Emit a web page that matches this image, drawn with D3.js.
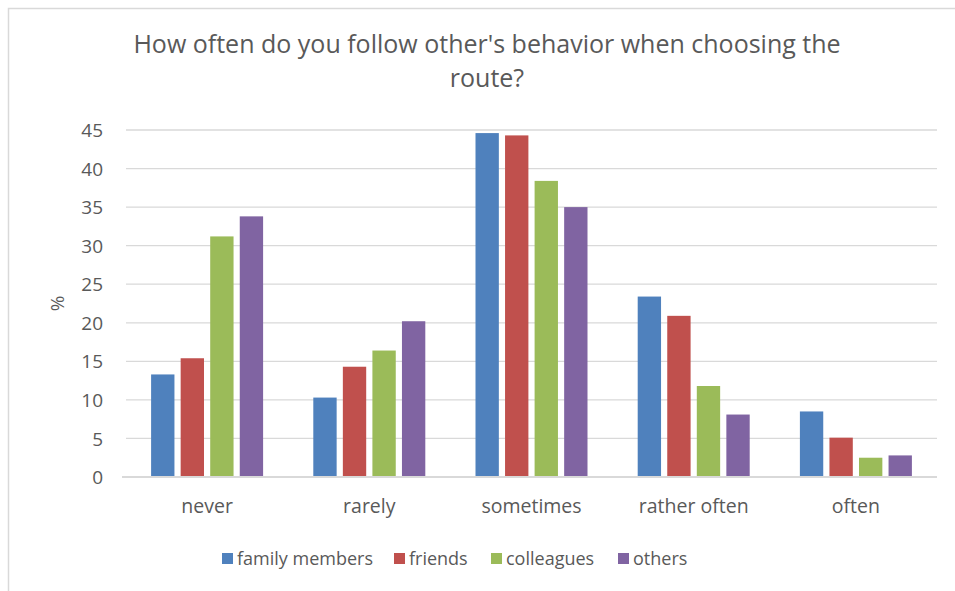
<!DOCTYPE html>
<html>
<head>
<meta charset="utf-8">
<script src="https://cdn.jsdelivr.net/npm/d3@7"></script>
<style>
  html, body { margin: 0; padding: 0; background: #fff; }
  svg { display: block; }
  text { font-family: "Open Sans", "Noto Sans", sans-serif; fill: #595959; }
</style>
</head>
<body>
<svg id="chart" width="955" height="591"></svg>
<script>
// Survey answers per frequency category, share of respondents in %
const categories = ["never", "rarely", "sometimes", "rather often", "often"];
const seriesNames = ["family members", "friends", "colleagues", "others"];
const familyMembers = [13.3, 10.3, 44.6, 23.4, 8.5];
const friends       = [15.4, 14.3, 44.3, 20.9, 5.1];
const colleagues    = [31.2, 16.4, 38.4, 11.8, 2.5];
const others        = [33.8, 20.2, 35.0, 8.1, 2.8];
const yTicks = [0, 5, 10, 15, 20, 25, 30, 35, 40, 45];
const titleLines = ["How often do you follow other's behavior when choosing the", "route?"];

const seriesValues = [familyMembers, friends, colleagues, others];
const colors = ["#4F81BD", "#C0504D", "#9BBB59", "#8064A2"];

const svg = d3.select("#chart");
const plot = { left: 126, right: 937, top: 130, bottom: 477 };

// chart frame
svg.append("rect")
  .attr("x", 8.5).attr("y", 8.5)
  .attr("width", 960).attr("height", 600)
  .attr("fill", "#fff").attr("stroke", "#D9D9D9").attr("stroke-width", 1.5);

const x0 = d3.scaleBand().domain(categories).range([plot.left, plot.right]).padding(0);
const groupSpan = 112;
const x1 = d3.scaleBand().domain(seriesNames)
  .range([(x0.bandwidth() - groupSpan) / 2, (x0.bandwidth() + groupSpan) / 2])
  .paddingInner(0.21).paddingOuter(0);
const y = d3.scaleLinear().domain([0, 45]).range([plot.bottom, plot.top]);

// horizontal gridlines
svg.append("g")
  .selectAll("line")
  .data(yTicks.filter(d => d > 0))
  .join("line")
  .attr("x1", plot.left).attr("x2", plot.right)
  .attr("y1", d => y(d)).attr("y2", d => y(d))
  .attr("stroke", "#D9D9D9").attr("stroke-width", 1.3);

// y axis labels
const yAxis = d3.axisLeft(y).tickValues(yTicks).tickSize(0).tickPadding(0);
const yG = svg.append("g").attr("transform", `translate(${103},0)`).call(yAxis);
yG.select(".domain").remove();
yG.selectAll("text")
  .attr("font-size", 19)
  .attr("dy", "0.35em")
  .style("font-family", "'Open Sans', sans-serif")
  .attr("fill", "#595959");

// bars
const groups = svg.append("g")
  .selectAll("g")
  .data(categories)
  .join("g")
  .attr("transform", c => `translate(${x0(c)},0)`);

groups.selectAll("rect")
  .data((c, i) => seriesNames.map((s, j) => ({ s, j, v: seriesValues[j][i] })))
  .join("rect")
  .attr("x", d => x1(d.s))
  .attr("width", x1.bandwidth())
  .attr("y", d => y(d.v))
  .attr("height", d => y(0) - y(d.v))
  .attr("fill", d => colors[d.j]);

// baseline
svg.append("line")
  .attr("x1", plot.left - 4).attr("x2", plot.right)
  .attr("y1", y(0)).attr("y2", y(0))
  .attr("stroke", "#D9D9D9").attr("stroke-width", 2);

// category labels
const xAxis = d3.axisBottom(x0).tickSize(0).tickPadding(0);
const xG = svg.append("g").attr("transform", `translate(0,${plot.bottom})`).call(xAxis);
xG.select(".domain").remove();
xG.selectAll("text")
  .attr("font-size", 19.5)
  .attr("y", 36)
  .attr("dy", 0)
  .style("font-family", "'Open Sans', sans-serif")
  .attr("fill", "#595959");

// y axis title
svg.append("text")
  .attr("transform", `translate(64,${(plot.top + plot.bottom) / 2}) rotate(-90)`)
  .attr("text-anchor", "middle")
  .attr("font-size", 19)
  .text("%");

// chart title
svg.append("g")
  .selectAll("text")
  .data(titleLines)
  .join("text")
  .attr("x", 487)
  .attr("y", (d, i) => 53 + i * 34)
  .attr("text-anchor", "middle")
  .attr("font-size", 25)
  .text(d => d);

// legend
const legendX = [222, 394, 491, 618];
const legend = svg.append("g")
  .selectAll("g")
  .data(seriesNames)
  .join("g")
  .attr("transform", (d, i) => `translate(${legendX[i]},553)`);
legend.append("rect")
  .attr("width", 11).attr("height", 11)
  .attr("fill", (d, i) => colors[i]);
legend.append("text")
  .attr("x", 15).attr("y", 12)
  .attr("font-size", 18)
  .text(d => d);
</script>
</body>
</html>
